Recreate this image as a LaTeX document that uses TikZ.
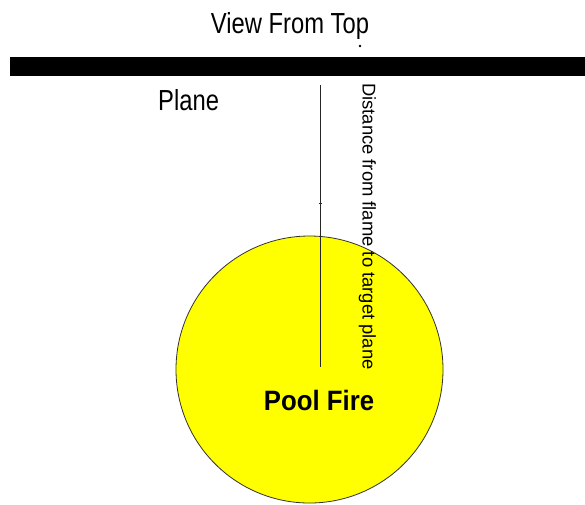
\documentclass[tikz,border=0pt]{standalone}
\usepackage{fontspec}
\setmainfont{Liberation Sans}
\begin{document}
\begin{tikzpicture}[x=1pt,y=-1pt,
  lbl/.style={inner sep=0pt, font=\fontsize{29}{29}\selectfont, xscale=0.82, transform shape},
  thinline/.style={draw=black!85, line width=1pt}]
\useasboundingbox (0,0) rectangle (585,504);
\fill[white] (0,0) rectangle (585,504);
% plane bar
\fill[black] (10,57) rectangle (585,76);
% pool fire circle
\node[circle, draw=black!80, fill={rgb,255:red,255;green,255;blue,0}, line width=0.8pt, minimum size=267pt, inner sep=0pt] (fire) at (309.5,369.5) {};
% distance line
\coordinate (ltop) at (320,85);
\coordinate (lbot) at (320,367);
\draw[thinline] (ltop) -- (lbot);
\draw[black!85, line width=1pt] (318.5,203) -- (321.5,203);
% texts
\node[lbl, anchor=base] (title) at (290,33) {View From Top};
\node[lbl, anchor=base west] (plane) at (158,110) {Plane};
\node[inner sep=0pt, anchor=base, font=\bfseries\fontsize{28}{28}\selectfont, xscale=0.92, transform shape] (pool) at (319,410) {Pool Fire};
\node[inner sep=0pt, rotate=-90, anchor=base west, font=\fontsize{18.4}{18.4}\selectfont] (dist) at (362.5,83) {Distance from flame to target plane};
\fill[black] (360,46) circle (1.3pt);
\end{tikzpicture}
\end{document}
